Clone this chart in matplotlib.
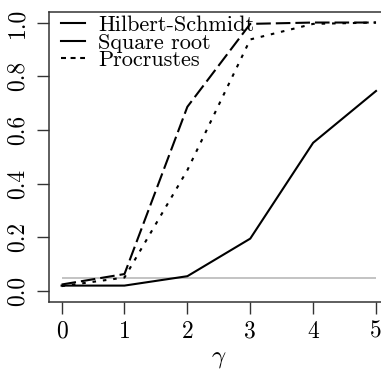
import matplotlib
matplotlib.use("Agg")
import matplotlib.pyplot as plt

plt.rcParams['font.family'] = ['cmr10', 'DejaVu Serif']
plt.rcParams['mathtext.fontset'] = 'cm'
plt.rcParams['axes.formatter.use_mathtext'] = True

gamma = [0, 1, 2, 3, 4, 5]
hilbert_schmidt = [0.020, 0.020, 0.055, 0.195, 0.552, 0.745]
square_root = [0.024, 0.063, 0.686, 0.995, 1.000, 1.000]
procrustes = [0.018, 0.050, 0.450, 0.937, 0.995, 1.000]
alpha_level = 0.05
x_ticks = [0, 1, 2, 3, 4, 5]
x_tick_labels = ["0", "1", "2", "3", "4", "5"]
y_ticks = [0.0, 0.2, 0.4, 0.6, 0.8, 1.0]
y_tick_labels = ["0.0", "0.2", "0.4", "0.6", "0.8", "1.0"]

W, H = 381, 371
fig = plt.figure(figsize=(W / 100, H / 100), dpi=100)
left, right, top, bottom = 49, 388.6, 11.8, 301.7
ax = fig.add_axes([left / W, 1 - bottom / H, (right - left) / W, (bottom - top) / H])

ax.hlines(alpha_level, gamma[0], gamma[-1], color="#bebebe", lw=1.3, zorder=1)
lw = 1.5
ax.plot(gamma, hilbert_schmidt, color="black", lw=lw, label="Hilbert-Schmidt")
ax.plot(gamma, square_root, color="black", lw=lw, dashes=(7.0, 2.4), label="Square root")
ax.plot(gamma, procrustes, color="black", lw=lw, dashes=(1.7, 3.3), label="Procrustes")

ax.set_xlim(-0.2, 5.2)
ax.set_ylim(-0.04, 1.04)
ax.set_xticks(x_ticks)
ax.set_xticklabels(x_tick_labels)
ax.set_yticks(y_ticks)
ax.set_yticklabels(y_tick_labels, rotation=90, va="center")
ax.tick_params(axis="both", length=8.5, width=1.0, labelsize=17, color="#333333")
ax.tick_params(axis="x", pad=5)
ax.tick_params(axis="y", pad=6)
for s in ax.spines.values():
    s.set_linewidth(1.1)
    s.set_color("#333333")

ax.set_xlabel(r"$\gamma$", fontsize=18, labelpad=4)

fs = 16
leg = ax.legend(loc="upper left", frameon=False, fontsize=fs, handlelength=1.08,
                handletextpad=0.58, borderaxespad=0.0, borderpad=0.0,
                labelspacing=-0.09,
                bbox_to_anchor=((61 - left) / (right - left), 1 - (15.5 - top) / (bottom - top)))
leg_lines = leg.get_lines()
leg_lines[1].set_linestyle("-")
leg_lines[2].set_dashes((2.4, 2.2))

fig.savefig("out.png", dpi=100)
